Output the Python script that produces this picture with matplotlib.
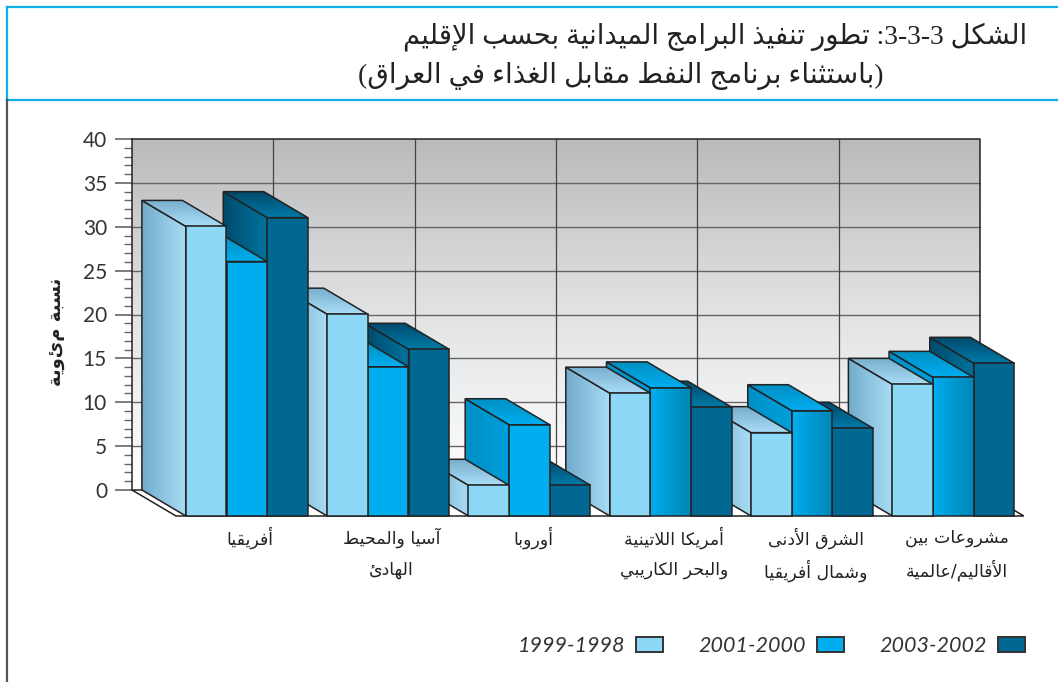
# -*- coding: utf-8 -*-
import numpy as np
import matplotlib
matplotlib.use("Agg")
import matplotlib.pyplot as plt
from matplotlib.colors import LinearSegmentedColormap
from matplotlib.lines import Line2D
from matplotlib.patches import Patch, Polygon, Rectangle

# data
title1 = "الشكل :3-3-3 تطور تنفيذ البرامج الميدانية بحسب الإقليم"
title2 = "(باستثناء برنامج النفط مقابل الغذاء في العراق)"
ylabel = "نسبة مئوية"
series = ["1999-1998", "2001-2000", "2003-2002"]
regions = [
    ["أفريقيا"],
    ["آسيا والمحيط", "الهادئ"],
    ["أوروبا"],
    ["أمريكا اللاتينية", "والبحر الكاريبي"],
    ["الشرق الأدنى", "وشمال أفريقيا"],
    ["مشروعات بين", "الأقاليم/عالمية"],
]
v1999 = [33, 23, 3.5, 14, 9.5, 15]
v2001 = [29, 17, 10.4, 14.6, 12, 15.8]
v2003 = [34, 19, 3.5, 12.4, 10, 17.4]

front_cols = ["#8dd7f7", "#00aeef", "#006892"]
side_cols = [("#72abcb", "#a9ddf6"), ("#008fc6", "#009fdb"), ("#004a6c", "#00739e")]
top_cols = [("#78aecd", "#a9ddf6"), ("#008fc4", "#00aeef"), ("#004a6c", "#007aa8")]
# the blue front faces of the last three regions fade to the right
fade_front = [False, False, False, True, True, True]

# arabic shaping (matplotlib draws the glyphs one by one)
FORMS = {"ء": (0xFE80, 1), "آ": (0xFE81, 2), "أ": (0xFE83, 2), "إ": (0xFE87, 2),
         "ا": (0xFE8D, 2), "ب": (0xFE8F, 4), "ة": (0xFE93, 2), "ت": (0xFE95, 4),
         "ث": (0xFE99, 4), "ج": (0xFE9D, 4), "ح": (0xFEA1, 4), "خ": (0xFEA5, 4),
         "د": (0xFEA9, 2), "ذ": (0xFEAB, 2), "ر": (0xFEAD, 2), "ز": (0xFEAF, 2),
         "س": (0xFEB1, 4), "ش": (0xFEB5, 4), "ص": (0xFEB9, 4), "ض": (0xFEBD, 4),
         "ط": (0xFEC1, 4), "ظ": (0xFEC5, 4), "ع": (0xFEC9, 4), "غ": (0xFECD, 4),
         "ف": (0xFED1, 4), "ق": (0xFED5, 4), "ك": (0xFED9, 4), "ل": (0xFEDD, 4),
         "م": (0xFEE1, 4), "ن": (0xFEE5, 4), "ه": (0xFEE9, 4), "و": (0xFEED, 2),
         "ى": (0xFEEF, 2), "ي": (0xFEF1, 4),
         "\uFEFB": (0xFEFB, 2), "\uFEF7": (0xFEF7, 2), "\uFEF9": (0xFEF9, 2)}


def shape(word):
    word = word.replace("لأ", "\uFEF7").replace("لإ", "\uFEF9").replace("لا", "\uFEFB")
    out = []
    for i, c in enumerate(word):
        if c not in FORMS:
            out.append({"(": ")", ")": "("}.get(c, c))
            continue
        base, n = FORMS[c]
        prev = word[i - 1] if i > 0 else ""
        nxt = word[i + 1] if i + 1 < len(word) else ""
        p = prev in FORMS and FORMS[prev][1] == 4
        q = nxt in FORMS and n == 4 and FORMS[nxt][1] > 1
        if n == 1:
            k = 0
        elif p and q:
            k = 3
        elif p:
            k = 1
        elif q:
            k = 2
        else:
            k = 0
        out.append(chr(base + k))
    return "".join(out[::-1])


def ar(text):
    words = []
    for w in text.split(" ")[::-1]:
        words.append(shape(w) if any(c in FORMS or c == "ل" for c in w) else w)
    return " ".join(words)


W, H = 1058, 682
fig = plt.figure(figsize=(W / 100, H / 100), dpi=100)
# axes runs from the back wall corner to the front of the floor
ax = fig.add_axes([132 / W, 1 - 516 / H, (1024 - 132) / W, (516 - 139) / H])

group_w = 141.3
unit = 351 / 40
dx = 44 / group_w
dy = 26 / unit
bar_w = 40.6 / group_w
ax.patch.set_visible(False)

grad = LinearSegmentedColormap.from_list("wall", ["#b9babc", "#e2e3e5", "#ffffff"])
ax.imshow(np.linspace(0, 1, 256).reshape(-1, 1), cmap=grad, extent=(0, 6, 0, 40),
          aspect="auto", zorder=0, origin="upper")
ax.hlines(np.arange(5, 40, 5), 0, 6, color="#666666", lw=1, zorder=1)
ax.vlines(np.arange(1, 6), 0, 40, color="#444444", lw=0.9, zorder=1)
ax.plot([0, 6, 6], [40, 40, 0], color="#222222", lw=1.1, zorder=1, clip_on=False)
ax.add_patch(Polygon([(0, 0), (6, 0), (6 + dx, -dy), (dx, -dy)], fc="white", ec="#222222",
                     lw=1.1, zorder=1, clip_on=False))


def gradient_poly(pts, c1, c2, vertical, z):
    cm = LinearSegmentedColormap.from_list("g", [c1, c2])
    pts = np.array(pts)
    arr = np.linspace(0, 1, 128)
    arr = arr.reshape(-1, 1) if vertical else arr.reshape(1, -1)
    im = ax.imshow(arr, cmap=cm, origin="upper", aspect="auto", zorder=z,
                   extent=(pts[:, 0].min(), pts[:, 0].max(), pts[:, 1].min(), pts[:, 1].max()))
    edge = Polygon(pts, fc="none", ec="#222222", lw=1.1, zorder=z + 0.1)
    ax.add_patch(edge)
    im.set_clip_path(edge)


values = [v1999, v2001, v2003]
z = 2
# painter's order: right to left so nearer bars cover the ones beside them
for g in range(5, -1, -1):
    for s in range(2, -1, -1):
        v = values[s][g]
        x0 = g + 0.07 + s * bar_w * 1.002
        x1 = x0 + bar_w
        left = [(x0, 0), (x0 + dx, -dy), (x0 + dx, v - dy), (x0, v)]
        top = [(x0, v), (x1, v), (x1 + dx, v - dy), (x0 + dx, v - dy)]
        gradient_poly(left, side_cols[s][0], side_cols[s][1], False, z)
        gradient_poly(top, top_cols[s][0], top_cols[s][1], True, z + 1)
        front = [(x0 + dx, -dy), (x1 + dx, -dy), (x1 + dx, v - dy), (x0 + dx, v - dy)]
        if s == 1 and fade_front[g]:
            gradient_poly(front, "#00aeef", "#0085b5", False, z + 2)
        else:
            ax.add_patch(Rectangle((x0 + dx, -dy), bar_w, v, fc=front_cols[s], ec="#222222",
                                   lw=1.1, zorder=z + 2, clip_on=False))
        z += 3

ax.set_xlim(0, 892 / group_w)
ax.set_ylim(-dy, 40)

for side in ["top", "right", "bottom"]:
    ax.spines[side].set_visible(False)
ax.spines["left"].set_bounds(0, 40)
ax.spines["left"].set_color("#222222")
ax.spines["left"].set_linewidth(1.1)
ax.set_xticks([])
ax.set_yticks(np.arange(0, 41, 5))
ax.set_yticks([m for m in range(0, 41) if m % 5], minor=True)
ax.tick_params(axis="y", which="major", length=12, width=1.2, color="#666666", pad=6,
               labelsize=15, labelcolor="#333333")
ax.tick_params(axis="y", which="minor", length=6, width=1.0, color="#666666")
for lab in ax.get_yticklabels():
    lab.set_family("Lato")
    lab.set_verticalalignment("center_baseline")

ax.set_ylabel(ar(ylabel), fontsize=13, fontweight="bold", color="#222222")
ax.yaxis.set_label_coords((66 - 132) / 892, (516 - 332) / 377)

# region labels under the groups
for g, lines in enumerate(regions):
    for k, line in enumerate(lines):
        ax.text(g + 0.07 + dx + 1.5 * bar_w + 0.025, -5.47 - k * 3.7, ar(line), ha="center", va="center",
                fontsize=12.5, color="#222222")

fam = ["Liberation Serif", "DejaVu Sans"]
fig.text(1027 / W, 1 - 37 / H, ar(title1), ha="right", va="center", family=fam, fontsize=19.8, color="#222222")
fig.text(883 / W, 1 - 76 / H, ar(title2), ha="right", va="center", family=fam, fontsize=20, color="#222222")

handles = [Patch(fc=c, ec="#333333", lw=1.4) for c in front_cols]
leg = fig.legend(handles, series, ncol=3, frameon=False, markerfirst=False, loc="center right",
                 bbox_to_anchor=(1025 / W, 1 - 646 / H), borderaxespad=0, borderpad=0,
                 handlelength=1.26, handleheight=0.65, handletextpad=0.5, columnspacing=1.65,
                 prop={"family": "Lato", "style": "italic", "size": 15.5})
for t in leg.get_texts():
    t.set_color("#333333")

# page frame
frame = [((7, 1058), (7, 7), "#0fb0e8"), ((7, 7), (7, 100), "#0fb0e8"),
         ((7, 1058), (100, 100), "#0fb0e8"), ((7, 7), (100, 682), "#555555")]
for xs, ys, c in frame:
    fig.add_artist(Line2D([x / W for x in xs], [1 - y / H for y in ys], color=c, lw=1.6))

fig.savefig("out.png", dpi=100)
